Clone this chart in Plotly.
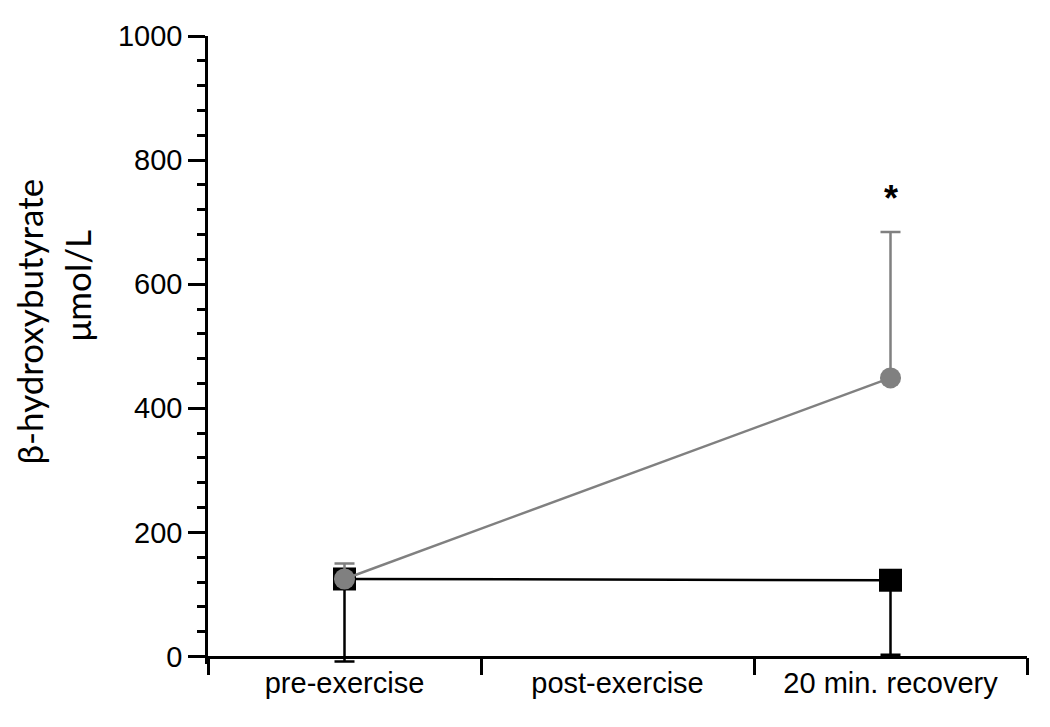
import plotly.graph_objects as go

categories = ["pre-exercise", "post-exercise", "20 min. recovery"]

# Black squares series
black_x = ["pre-exercise", "20 min. recovery"]
black_y = [125, 123]
black_err_minus = [133, 120]

# Gray circles series
gray_x = ["pre-exercise", "20 min. recovery"]
gray_y = [125, 449]
gray_err_plus = [25, 235]

y_ticks = [0, 200, 400, 600, 800, 1000]
y_min, y_max = -12, 1000
sig_label = "*"
sig_y = 738

fig = go.Figure()

fig.add_trace(go.Scatter(
    x=black_x, y=black_y, mode="lines+markers",
    line=dict(color="black", width=2.5),
    marker=dict(symbol="square", size=23, color="black"),
    error_y=dict(type="data", symmetric=False, array=[0, 0],
                 arrayminus=black_err_minus, color="black",
                 thickness=2.5, width=10),
    cliponaxis=False, showlegend=False,
))

fig.add_trace(go.Scatter(
    x=gray_x, y=gray_y, mode="lines+markers",
    line=dict(color="#808080", width=2.5),
    marker=dict(symbol="circle", size=21, color="#808080"),
    error_y=dict(type="data", symmetric=False, array=gray_err_plus,
                 arrayminus=[0, 0], color="#808080",
                 thickness=2.5, width=10),
    cliponaxis=False, showlegend=False,
))

fig.add_annotation(x="20 min. recovery", y=sig_y, text=sig_label,
                   showarrow=False, font=dict(size=36, color="black",
                                              family="Liberation Sans, Arial",
                                              weight="bold"))

# Y-axis title (two lines placed separately)
plot_left, plot_w = 208, 819
plot_bottom, plot_h = 664.5, 631.5
fig.add_annotation(xref="paper", yref="paper", x=(29 - plot_left) / plot_w,
                   y=(plot_bottom - 320) / plot_h, text="β-hydroxybutyrate",
                   xanchor="center", yanchor="middle", borderpad=0,
                   textangle=-90, showarrow=False,
                   font=dict(size=35, color="black", family="Lato"))
fig.add_annotation(xref="paper", yref="paper", x=(77 - plot_left) / plot_w,
                   y=(plot_bottom - 284) / plot_h, text="μmol/L",
                   xanchor="center", yanchor="middle", borderpad=0,
                   textangle=-90, showarrow=False,
                   font=dict(size=35, color="black", family="Lato"))

tick_font = dict(size=29, color="black", family="Liberation Sans, Arial")

fig.update_xaxes(
    type="category", categoryorder="array", categoryarray=categories,
    range=[-0.5, 2.5], tickson="boundaries",
    anchor="free", position=(0 - y_min) / (y_max - y_min),
    showline=True, linecolor="black", linewidth=2.5,
    ticks="outside", ticklen=17, tickwidth=2.5, tickcolor="black",
    showgrid=False, zeroline=False, tickfont=tick_font,
)
fig.update_yaxes(
    range=[y_min, y_max], tickmode="array", tickvals=y_ticks,
    showline=True, linecolor="black", linewidth=2.5,
    ticks="outside", ticklen=17, tickwidth=2.5, tickcolor="black",
    minor=dict(tickmode="array", tickvals=[v for v in range(40, 1000, 40) if v % 200],
               ticks="outside", ticklen=8,
               tickwidth=2.5, tickcolor="black", showgrid=False),
    showgrid=False, zeroline=False, tickfont=tick_font,
)

fig.update_layout(
    width=1050, height=727,
    margin=dict(l=200, r=31, t=25, b=70.5),
    plot_bgcolor="white", paper_bgcolor="white",
)

fig.write_html("out.html")
